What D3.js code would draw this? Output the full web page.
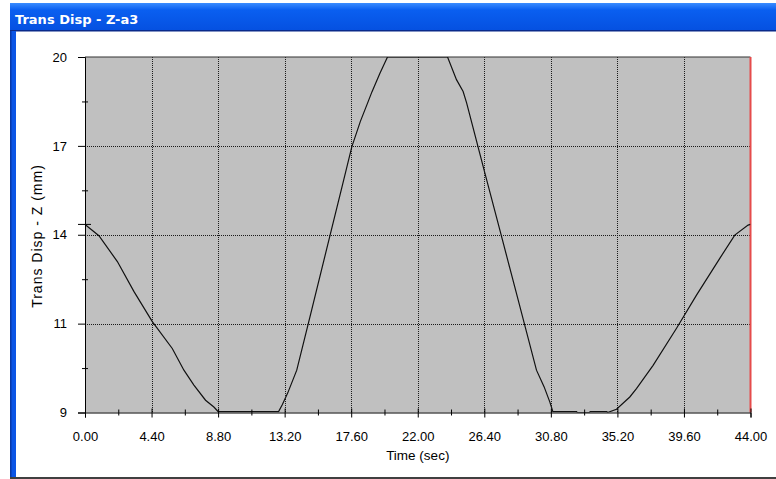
<!DOCTYPE html>
<html>
<head>
<meta charset="utf-8">
<script src="https://cdn.jsdelivr.net/npm/d3@7"></script>
<style>
  body { margin: 0; background: #fff; }
  svg { display: block; }
</style>
</head>
<body>
<svg width="776" height="479"></svg>
<script>
// time (sec) and displacement (mm)
var times = [0, 0.37, 0.92, 2.14, 3.24, 4.45, 5.77, 6.54, 7.2, 7.97, 8.52, 8.8, 9.6, 10.4, 11.2, 12.0, 12.8,
    13.05, 13.4, 14.0, 15.0, 16.0, 17.0, 17.64, 18.2, 18.72, 18.97, 19.5, 20.0, 21.0, 22.0, 23.0, 23.97,
    24.56, 25.0, 25.23, 26.5, 27.5, 28.5, 29.85, 30.35, 30.73, 30.93, 31.6, 32.5, 32.55, 33.35, 33.4, 34.5,
    34.55, 35.14, 36.02, 36.46, 37.56, 39.1, 40.43, 41.97, 42.96, 43.84, 44];
var disp = [14.82, 14.68, 14.47, 13.67, 12.74, 11.81, 10.98, 10.31, 9.85, 9.38, 9.17, 9.03, 9.03, 9.03, 9.03, 9.03, 9.03,
    9.25, 9.6, 10.31, 12.2, 14.1, 16.0, 17.22, 18.0, 18.62, 18.92, 19.5, 20, 20, 20, 20, 20,
    19.3, 18.93, 18.58, 16.3, 14.52, 12.73, 10.31, 9.8, 9.33, 9.03, 9.03, 9.03, 9.0, 9.0, 9.03, 9.03,
    9.0, 9.1, 9.48, 9.74, 10.46, 11.6, 12.63, 13.77, 14.49, 14.8, 14.82];

var xTicks = [0, 4.4, 8.8, 13.2, 17.6, 22, 26.4, 30.8, 35.2, 39.6, 44];
var xTickLabels = ["0.00", "4.40", "8.80", "13.20", "17.60", "22.00", "26.40", "30.80", "35.20", "39.60", "44.00"];
var yTicks = [9, 11.75, 14.5, 17.25, 20];
var yTickLabels = ["9", "11", "14", "17", "20"];

function main() {
    var svg = d3.select("svg"),
        left = 85, right = 750.5, top = 57, bottom = 412.5;

    // window frame
    var grad = svg.append("defs").append("linearGradient")
        .attr("id", "tb").attr("x1", 0).attr("y1", 0).attr("x2", 0).attr("y2", 1);
    grad.append("stop").attr("offset", "0%").attr("stop-color", "#3a8cff");
    grad.append("stop").attr("offset", "25%").attr("stop-color", "#0a5ff0");
    grad.append("stop").attr("offset", "100%").attr("stop-color", "#0550e0");

    svg.append("rect").attr("x", 10).attr("y", 3).attr("width", 766).attr("height", 28).attr("fill", "url(#tb)");
    svg.append("rect").attr("x", 10).attr("y", 30).attr("width", 766).attr("height", 1.5).attr("fill", "#0a2a8a");
    svg.append("rect").attr("x", 10).attr("y", 31).attr("width", 6).attr("height", 448).attr("fill", "#0b55e6");
    svg.append("rect").attr("x", 10).attr("y", 31).attr("width", 1.5).attr("height", 448).attr("fill", "#0838a8");
    svg.append("rect").attr("x", 10).attr("y", 477).attr("width", 766).attr("height", 2).attr("fill", "#404040");

    svg.append("text")
        .attr("x", 15)
        .attr("y", 24)
        .attr("font-family", "DejaVu Sans, sans-serif")
        .attr("font-weight", "bold")
        .attr("font-size", "13px")
        .attr("fill", "#fff")
        .text("Trans Disp - Z-a3");

    var xScale = d3.scaleLinear().domain([0, 44]).range([left, right]),
        yScale = d3.scaleLinear().domain([9, 20]).range([bottom, top]);

    // plot background
    svg.append("rect")
        .attr("x", left).attr("y", top)
        .attr("width", right - left).attr("height", bottom - top)
        .attr("fill", "#c0c0c0");

    // dotted grid
    var grid = svg.append("g").attr("stroke", "#1a1a1a").attr("stroke-dasharray", "1,1").attr("stroke-width", 1);
    grid.selectAll(".vg")
        .data(xTicks.slice(1, -1))
        .enter().append("line")
        .attr("x1", function(d){ return Math.round(xScale(d)) + 0.5; })
        .attr("x2", function(d){ return Math.round(xScale(d)) + 0.5; })
        .attr("y1", top).attr("y2", bottom);
    grid.selectAll(".hg")
        .data(yTicks.slice(1, -1))
        .enter().append("line")
        .attr("y1", function(d){ return Math.round(yScale(d)) + 0.5; })
        .attr("y2", function(d){ return Math.round(yScale(d)) + 0.5; })
        .attr("x1", left).attr("x2", right);

    // top border and red right edge
    svg.append("line").attr("x1", left).attr("x2", right).attr("y1", top).attr("y2", top)
        .attr("stroke", "#333").attr("stroke-width", 1.2);
    svg.append("line").attr("x1", right).attr("x2", right).attr("y1", top).attr("y2", bottom)
        .attr("stroke", "#e54b4b").attr("stroke-width", 2);

    // data line
    svg.append("clipPath").attr("id", "clip").append("rect")
        .attr("x", left).attr("y", top).attr("width", right - left).attr("height", bottom - top);

    var pts = times.map(function(t, i){ return [t, disp[i]]; });
    svg.append("path")
        .datum(pts)
        .attr("clip-path", "url(#clip)")
        .attr("fill", "none")
        .attr("stroke", "#111")
        .attr("stroke-width", 1.2)
        .attr("d", d3.line()
            .x(function(d){ return xScale(d[0]); })
            .y(function(d){ return yScale(d[1]); }));

    // axes
    var font = "Liberation Sans, Arial, sans-serif";

    var xAxis = svg.append("g").attr("transform", "translate(0," + bottom + ")")
        .call(d3.axisBottom(xScale).tickValues(xTicks)
            .tickFormat(function(d, i){ return xTickLabels[i]; })
            .tickSizeOuter(0).tickSize(5).tickPadding(14));
    xAxis.selectAll(".tick line").attr("y1", -4).attr("y2", 5).attr("stroke", "#000");
    xAxis.select(".domain").attr("stroke", "#000");
    xAxis.selectAll("text").attr("font-family", font).attr("font-size", "13px").attr("fill", "#000");

    var xMinor = svg.append("g").attr("transform", "translate(0," + bottom + ")")
        .call(d3.axisBottom(xScale).tickValues(xTicks.slice(0, -1).map(function(d){ return d + 2.2; }))
            .tickFormat("").tickSizeOuter(0).tickSize(3));
    xMinor.select(".domain").remove();
    xMinor.selectAll(".tick line").attr("y1", -3).attr("y2", 3).attr("stroke", "#000");

    var yAxis = svg.append("g").attr("transform", "translate(" + left + ",0)")
        .call(d3.axisLeft(yScale).tickValues(yTicks)
            .tickFormat(function(d, i){ return yTickLabels[i]; })
            .tickSizeOuter(0).tickSize(7).tickPadding(11));
    yAxis.selectAll(".tick line").attr("stroke", "#000");
    yAxis.select(".domain").attr("stroke", "#000");
    yAxis.selectAll("text").attr("font-family", font).attr("font-size", "13px").attr("fill", "#000");

    var yMinor = svg.append("g").attr("transform", "translate(" + left + ",0)")
        .call(d3.axisLeft(yScale).tickValues(yTicks.slice(0, -1).map(function(d){ return d + 1.375; }))
            .tickFormat("").tickSizeOuter(0).tickSize(3));
    yMinor.select(".domain").remove();
    yMinor.selectAll(".tick line").attr("x1", -3).attr("x2", 3).attr("stroke", "#000");

    // marker at the first value
    svg.append("line")
        .attr("x1", left - 7).attr("x2", left + 6)
        .attr("y1", yScale(disp[0])).attr("y2", yScale(disp[0]))
        .attr("stroke", "#000");

    // axis titles
    svg.append("text")
        .attr("x", (left + right) / 2)
        .attr("y", 460)
        .attr("text-anchor", "middle")
        .attr("font-family", font)
        .attr("font-size", "13.5px")
        .text("Time (sec)");

    svg.append("text")
        .attr("transform", "translate(42," + 236 + ") rotate(-90)")
        .attr("text-anchor", "middle")
        .attr("font-family", font)
        .attr("font-size", "14px")
        .attr("letter-spacing", "1px")
        .text("Trans Disp - Z (mm)");
}

main();
</script>
</body>
</html>
